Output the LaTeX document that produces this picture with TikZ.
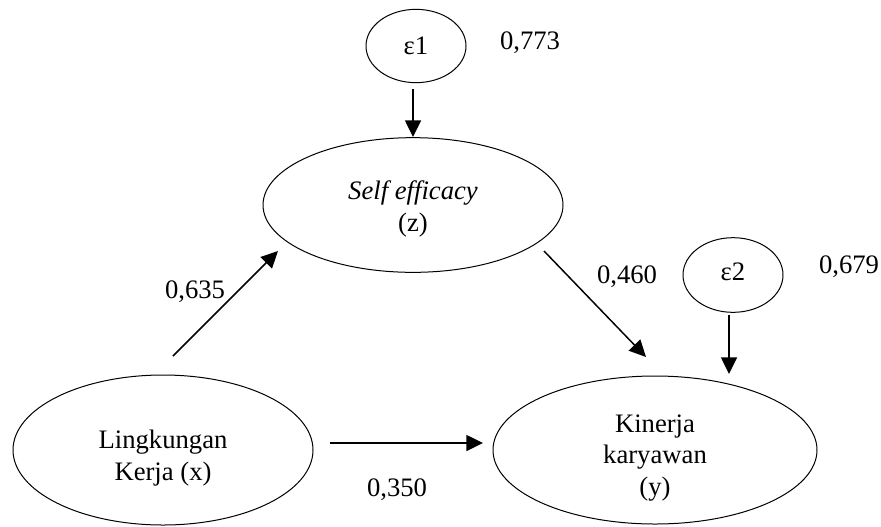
\documentclass[tikz,border=0pt]{standalone}
\usepackage{fontspec}
\setmainfont{Liberation Serif}
\usetikzlibrary{shapes.geometric,arrows.meta}
\tikzset{
  latent/.style={draw, ellipse, line width=0.75pt, inner sep=0pt},
  txt/.style={font=\fontsize{20}{23.5}\selectfont, align=center, inner sep=0pt},
  path/.style={line width=1.1pt, -{Triangle[length=12.5pt,width=12pt]}},
}
\begin{document}
\begin{tikzpicture}[x=0.75pt,y=-0.75pt]
\useasboundingbox (0,0) rectangle (881,526);
% latent variables
\node[latent, minimum width=75pt, minimum height=55pt] (e1) at (416,46) {};
\node[txt] (e1t) at (416,46) {ε1};
\node[latent, minimum width=225pt, minimum height=101pt] (se) at (413,205) {};
\node[txt] (set) at (413,209) {\textit{Self efficacy}\\(z)};
\node[latent, minimum width=75pt, minimum height=56pt] (e2) at (733,275) {};
\node[txt] (e2t) at (733,272) {ε2};
\node[latent, minimum width=243pt, minimum height=111pt] (ky) at (655,450) {};
\node[txt] (kyt) at (655,458) {Kinerja\\karyawan\\(y)};
\node[latent, minimum width=225pt, minimum height=112.5pt] (lk) at (163,450) {};
\node[txt] (lkt) at (163,458) {Lingkungan\\Kerja (x)};
% coefficient labels
\node[txt] (l773) at (530,43) {0,773};
\node[txt] (l679) at (849,267) {0,679};
\node[txt] (l635) at (195,292) {0,635};
\node[txt] (l460) at (627,277) {0,460};
\node[txt] (l350) at (397,490) {0,350};
% arrow end points
\coordinate (a1s) at (173,356);
\coordinate (a1e) at (278,251);
\coordinate (a2s) at (544,251);
\coordinate (a2e) at (646,357);
\coordinate (a3s) at (330,443);
\coordinate (a3e) at (483,443);
\coordinate (a4s) at (413,89);
\coordinate (a4e) at (413,137);
\coordinate (a5s) at (729,315);
\coordinate (a5e) at (729,374);
% paths
\draw[path] (a4s) -- (a4e);
\draw[path] (a5s) -- (a5e);
\draw[path] (a1s) -- (a1e);
\draw[path] (a2s) -- (a2e);
\draw[path] (a3s) -- (a3e);
\end{tikzpicture}
\end{document}
